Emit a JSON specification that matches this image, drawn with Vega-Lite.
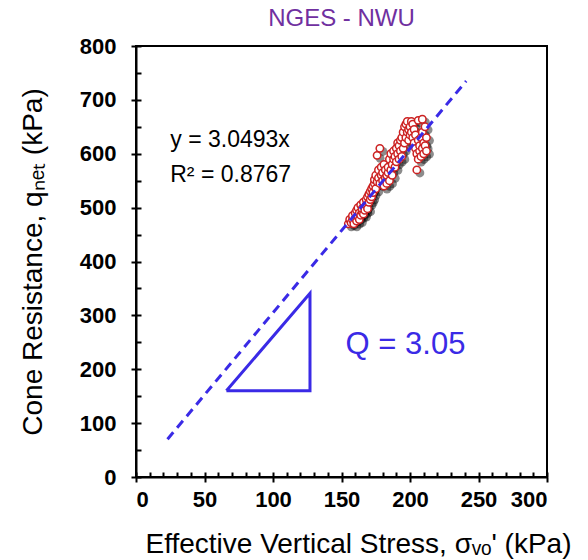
{
  "$schema": "https://vega.github.io/schema/vega-lite/v6.json",
  "autosize": "none",
  "width": 411,
  "height": 431,
  "padding": {"left": 136, "top": 46, "right": 41, "bottom": 83},
  "background": "white",
  "config": {
    "font": "Liberation Sans",
    "view": {"stroke": "black", "strokeWidth": 2}
  },
  "title": {
    "text": "NGES - NWU",
    "color": "#7030a0",
    "fontSize": 24,
    "fontWeight": "normal",
    "font": "Liberation Sans",
    "offset": 4
  },
  "datasets": {
    "pts": [
      {"s":155,"q":470},{"s":156,"q":478},{"s":157,"q":472},{"s":158,"q":478},{"s":158,"q":485},{"s":159,"q":470},{"s":160,"q":480},{"s":160,"q":490},{"s":161,"q":475},{"s":161,"q":495},{"s":162,"q":483},{"s":162,"q":500},{"s":163,"q":478},{"s":163,"q":490},{"s":164,"q":486},{"s":164,"q":505},{"s":165,"q":492},{"s":165,"q":498},{"s":166,"q":488},{"s":166,"q":510},{"s":167,"q":500},{"s":167,"q":495},{"s":168,"q":505},{"s":168,"q":515},{"s":169,"q":498},{"s":169,"q":520},{"s":170,"q":510},{"s":170,"q":525},{"s":171,"q":515},{"s":171,"q":530},{"s":172,"q":520},{"s":172,"q":535},
      {"s":173,"q":540},{"s":173,"q":528},{"s":174,"q":545},{"s":174,"q":552},{"s":175,"q":535},{"s":175,"q":560},{"s":176,"q":548},{"s":176,"q":597},{"s":177,"q":555},{"s":177,"q":570},{"s":178,"q":610},{"s":178,"q":545},{"s":179,"q":560},{"s":179,"q":575},{"s":180,"q":550},{"s":180,"q":565},{"s":181,"q":540},{"s":181,"q":580},{"s":182,"q":555},{"s":182,"q":570},{"s":183,"q":545},{"s":183,"q":560},{"s":184,"q":565},{"s":184,"q":575},{"s":185,"q":550},{"s":185,"q":590},
      {"s":186,"q":570},{"s":186,"q":600},{"s":187,"q":580},{"s":187,"q":560},{"s":188,"q":590},{"s":188,"q":605},{"s":189,"q":575},{"s":189,"q":595},{"s":190,"q":585},{"s":190,"q":610},{"s":191,"q":600},{"s":191,"q":620},{"s":192,"q":590},{"s":192,"q":615},{"s":193,"q":605},{"s":193,"q":625},{"s":194,"q":595},{"s":194,"q":630},{"s":195,"q":610},{"s":195,"q":640},
      {"s":196,"q":620},{"s":196,"q":650},{"s":197,"q":630},{"s":197,"q":655},{"s":198,"q":640},{"s":198,"q":660},{"s":199,"q":625},{"s":199,"q":645},{"s":200,"q":650},{"s":200,"q":635},{"s":201,"q":660},{"s":201,"q":640},{"s":202,"q":655},{"s":202,"q":630},{"s":203,"q":645},{"s":203,"q":620},{"s":204,"q":610},{"s":204,"q":635},{"s":205,"q":600},{"s":205,"q":570},{"s":206,"q":625},{"s":206,"q":590},{"s":207,"q":605},{"s":207,"q":615},{"s":208,"q":595},{"s":208,"q":630},{"s":209,"q":610},{"s":209,"q":640},{"s":210,"q":620},{"s":210,"q":600},{"s":211,"q":615},{"s":211,"q":650},{"s":212,"q":630},{"s":212,"q":605},{"s":206,"q":662},{"s":209,"q":664}
    ],
    "fit": [{"s": 23, "q": 70.1}, {"s": 241, "q": 734.9}],
    "tri": [{"o": 1, "s": 66, "q": 160}, {"o": 2, "s": 127, "q": 160}, {"o": 3, "s": 127, "q": 341}, {"o": 4, "s": 66, "q": 160}],
    "eq": [{"s": 25, "q": 625, "t": "y = 3.0493x"}, {"s": 25, "q": 560, "t": "R² = 0.8767"}],
    "qlab": [{"s": 153, "q": 245, "t": "Q = 3.05"}]
  },
  "resolve": {"axis": {"x": "independent", "y": "independent"}},
  "layer": [
    {
      "data": {"name": "pts"},
      "mark": {"type": "point", "shape": "circle", "filled": true, "fill": "black", "opacity": 0.45, "size": 80, "strokeWidth": 0, "xOffset": 3, "yOffset": 3},
      "encoding": {
        "x": {"field": "s", "type": "quantitative", "scale": {"domain": [0, 300], "nice": false},
          "axis": {"orient": "bottom", "values": [0,50,100,150,200,250,300], "title": "Effective Vertical Stress, σᵥₒ' (kPa)",
            "domainColor": "black", "domainWidth": 2, "tickColor": "black", "tickWidth": 2, "tickSize": 5,
            "labelFont": "Liberation Sans", "labelFontSize": 22, "labelFontWeight": "bold", "labelColor": "black", "labelPadding": 7,
            "titleFont": "Liberation Sans", "titleFontSize": 28, "titleFontWeight": "normal", "titleColor": "black", "titlePadding": 20,
            "titleX": 222, "titleAlign": "center", "grid": false}},
        "y": {"field": "q", "type": "quantitative", "scale": {"domain": [0, 800], "nice": false},
          "axis": {"orient": "left", "values": [0,100,200,300,400,500,600,700,800], "title": "Cone Resistance, qₙₑₜ (kPa)",
            "domainColor": "black", "domainWidth": 2, "tickColor": "black", "tickWidth": 2, "tickSize": 5,
            "labelFont": "Liberation Sans", "labelFontSize": 22, "labelFontWeight": "bold", "labelColor": "black", "labelPadding": 15,
            "titleFont": "Liberation Sans", "titleFontSize": 28, "titleFontWeight": "normal", "titleColor": "black", "titlePadding": 32, "grid": false}}
      }
    },
    {
      "data": {"name": "pts"},
      "mark": {"type": "point", "shape": "circle", "filled": false, "stroke": "#cc2222", "fill": "white", "fillOpacity": 1, "opacity": 1, "size": 55, "strokeWidth": 1.5},
      "encoding": {
        "x": {"field": "s", "type": "quantitative",
          "axis": {"orient": "bottom", "values": [0,10,20,30,40,50,60,70,80,90,100,110,120,130,140,150,160,170,180,190,200,210,220,230,240,250,260,270,280,290,300],
            "labels": false, "title": null, "domain": false, "tickColor": "black", "tickWidth": 2, "tickSize": -5, "grid": false}},
        "y": {"field": "q", "type": "quantitative",
          "axis": {"orient": "left", "values": [0,50,100,150,200,250,300,350,400,450,500,550,600,650,700,750,800],
            "labels": false, "title": null, "domain": false, "tickColor": "black", "tickWidth": 2, "tickSize": -5, "grid": false}}
      }
    },
    {
      "data": {"name": "fit"},
      "mark": {"type": "line", "color": "#3a2ae6", "strokeWidth": 3, "strokeDash": [9, 6]},
      "encoding": {
        "x": {"field": "s", "type": "quantitative", "axis": null},
        "y": {"field": "q", "type": "quantitative", "axis": null}
      }
    },
    {
      "data": {"name": "tri"},
      "mark": {"type": "line", "color": "#3a2ae6", "strokeWidth": 3, "strokeJoin": "miter"},
      "encoding": {
        "x": {"field": "s", "type": "quantitative", "axis": null},
        "y": {"field": "q", "type": "quantitative", "axis": null},
        "order": {"field": "o", "type": "quantitative"}
      }
    },
    {
      "data": {"name": "eq"},
      "mark": {"type": "text", "align": "left", "baseline": "middle", "fontSize": 23, "font": "Liberation Sans", "color": "black"},
      "encoding": {
        "x": {"field": "s", "type": "quantitative", "axis": null},
        "y": {"field": "q", "type": "quantitative", "axis": null},
        "text": {"field": "t"}
      }
    },
    {
      "data": {"name": "qlab"},
      "mark": {"type": "text", "align": "left", "baseline": "middle", "fontSize": 31, "font": "Liberation Sans", "color": "#3a2ae6"},
      "encoding": {
        "x": {"field": "s", "type": "quantitative", "axis": null},
        "y": {"field": "q", "type": "quantitative", "axis": null},
        "text": {"field": "t"}
      }
    }
  ]
}
